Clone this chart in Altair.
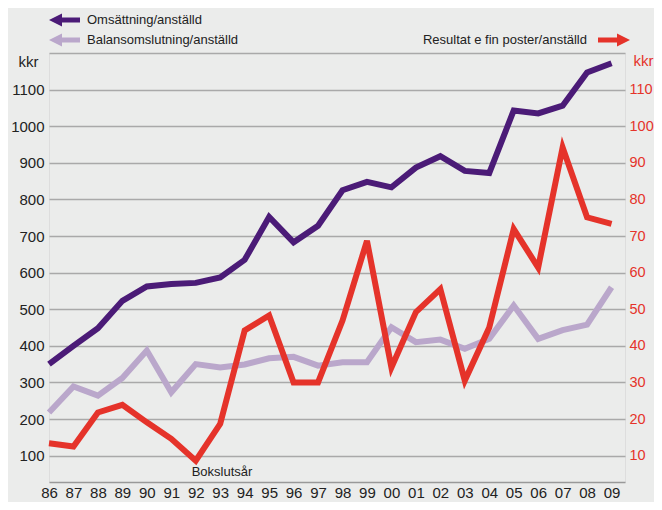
import json
import altair as alt
import pandas as pd

years = ["86", "87", "88", "89", "90", "91", "92", "93", "94", "95", "96", "97",
         "98", "99", "00", "01", "02", "03", "04", "05", "06", "07", "08", "09"]
omsattning = [350, 400, 448, 523, 562, 569, 572, 587, 635, 752, 683, 728,
              825, 848, 833, 887, 918, 878, 872, 1043, 1035, 1056, 1147, 1172]
balans = [218, 289, 264, 312, 387, 273, 350, 341, 349, 366, 370, 346,
          355, 355, 451, 410, 417, 392, 419, 510, 419, 443, 458, 560]
resultat = [13.4, 12.5, 21.8, 23.9, 19.1, 14.6, 8.6, 18.7, 44.2, 48.3, 30.0, 30.0,
            46.9, 68.7, 34.1, 49.2, 55.5, 30.5, 45.0, 71.9, 61.4, 94.2, 75.1, 73.3]
left_ticks = [100, 200, 300, 400, 500, 600, 700, 800, 900, 1000, 1100, 1200]
right_ticks = [10, 20, 30, 40, 50, 60, 70, 80, 90, 100, 110]

DARK = "#4b1b77"
LIGHT = "#baa7cb"
RED = "#e5332a"
TXT = "#222222"
GRID = "#a9a9a9"
FONT = "Liberation Sans"

idx = list(range(len(years)))
df = pd.DataFrame({"i": idx, "oms": omsattning, "bal": balans, "res": resultat})

X = alt.X("i:Q",
          scale=alt.Scale(domain=[0, 23.55], nice=False, zero=False),
          axis=alt.Axis(values=idx, labelExpr=json.dumps(years) + "[datum.value]",
                        grid=False, ticks=False, domainColor="#999999", domainWidth=1.5,
                        labelFontSize=15, labelPadding=3, labelFlush=False,
                        labelOverlap=False, labelColor=TXT, title=None))

yl = alt.Scale(domain=[28, 1200], nice=False, zero=False)
yr = alt.Scale(domain=[2.8, 120], nice=False, zero=False)

left_axis = alt.Axis(values=left_ticks, format="d",
                     labelExpr="datum.value > 1150 ? '' : datum.label",
                     grid=True, gridColor=GRID, gridWidth=1.5, domain=False, ticks=False,
                     labelPadding=5, labelFontSize=15, labelColor=TXT, labelOverlap=False,
                     title="kkr", titleAngle=0, titleAlign="center", titleBaseline="alphabetic",
                     titleX=-21, titleY=13, titleFontSize=15, titleFontWeight="normal",
                     titleColor=TXT)
right_axis = alt.Axis(orient="right", values=right_ticks, format="d", grid=False,
                      domain=False, ticks=False,
                      labelPadding=4, labelFontSize=14.5, labelColor=RED, labelOverlap=False,
                      title="kkr", titleAngle=0, titleAlign="center", titleBaseline="alphabetic",
                      titleX=18, titleY=12, titleFontSize=15, titleFontWeight="normal",
                      titleColor=RED)

base = alt.Chart(df)
line_kw = dict(strokeWidth=6, strokeJoin="miter", strokeCap="butt")

light = base.mark_line(color=LIGHT, **line_kw).encode(
    x=X, y=alt.Y("bal:Q", scale=yl, axis=left_axis))
dark = base.mark_line(color=DARK, **line_kw).encode(
    x=X, y=alt.Y("oms:Q", scale=yl, axis=None))
red = base.mark_line(color=RED, **line_kw).encode(
    x=X, y=alt.Y("res:Q", scale=yr, axis=right_axis))

one = alt.Data(values=[{"a": 1}])


def text(label, x, y, align="left", size=13):
    return alt.Chart(one).mark_text(align=align, baseline="middle", fontSize=size,
                                    font=FONT, color=TXT).encode(
        x=alt.value(x), y=alt.value(y), text=alt.value(label))


def arrow(color, x0, x1, head_x, y, left=True):
    shaft = alt.Chart(one).mark_rule(color=color, strokeWidth=5).encode(
        x=alt.value(x0), x2=alt.value(x1), y=alt.value(y))
    shape = "M -1 0 L 1 -1 L 1 1 Z" if left else "M 1 0 L -1 -1 L -1 1 Z"
    head = alt.Chart(one).mark_point(shape=shape, size=169, filled=True, color=color,
                                     opacity=1, strokeWidth=0).encode(
        x=alt.value(head_x), y=alt.value(y))
    return [shaft, head]


annotations = []
annotations += arrow(DARK, 12, 31, 6.5, -33, left=True)
annotations.append(text("Omsättning/anställd", 38, -33))
annotations += arrow(LIGHT, 12, 31, 6.5, -13, left=True)
annotations.append(text("Balansomslutning/anställd", 38, -13))
annotations.append(text("Resultat e fin poster/anställd", 538, -13, align="right"))
annotations += arrow(RED, 549, 569, 574.5, -13, left=False)
annotations.append(text("Bokslutsår", 173, 419, align="center"))

chart = alt.layer(light, dark, red, *annotations).resolve_scale(
    y="independent").resolve_axis(y="independent").properties(
    width=576, height=429,
    autosize=alt.AutoSizeParams(type="none"),
    padding={"left": 41, "top": 45, "right": 29, "bottom": 20},
    background="#ebeceb",
).configure_view(fill="white", stroke=None).configure(font=FONT)

chart.save("out.html", embed_options={"renderer": "svg", "actions": False})
